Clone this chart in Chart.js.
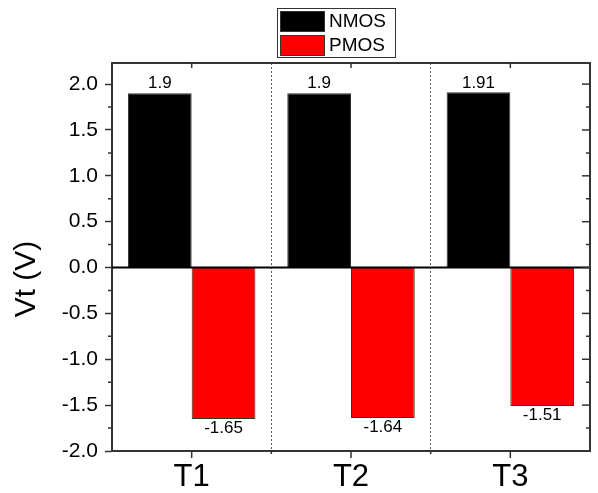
<!DOCTYPE html>
<html>
<head>
<meta charset="utf-8">
<script src="https://cdn.jsdelivr.net/npm/chart.js@4"></script>
<style>
  html, body { margin: 0; padding: 0; background: #fff; }
  #wrap { width: 598px; height: 493px; }
</style>
</head>
<body>
<div id="wrap"><canvas id="vtChart"></canvas></div>
<script>
const categories = ['T1', 'T2', 'T3'];
const nmosValues = [1.9, 1.9, 1.91];
const pmosValues = [-1.65, -1.64, -1.51];
const yTickValues = [-2.0, -1.5, -1.0, -0.5, 0.0, 0.5, 1.0, 1.5, 2.0];
const yTitle = 'Vt (V)';

const FONT = '"Liberation Sans", Arial, sans-serif';
const AXIS = '#333';

// ticks, frame, zero line, value labels, legend
const decorPlugin = {
  id: 'decor',
  afterDatasetsDraw(chart) {
    const ctx = chart.ctx;
    const area = chart.chartArea;
    const y = chart.scales.y;
    const x = chart.scales.x;

    // zero line
    ctx.save();
    ctx.strokeStyle = '#000';
    ctx.lineWidth = 2;
    ctx.beginPath();
    ctx.moveTo(area.left, y.getPixelForValue(0));
    ctx.lineTo(area.right, y.getPixelForValue(0));
    ctx.stroke();

    // value labels
    ctx.fillStyle = '#000';
    ctx.font = '17px ' + FONT;
    ctx.textAlign = 'center';
    chart.data.datasets.forEach((ds, i) => {
      chart.getDatasetMeta(i).data.forEach((bar, j) => {
        const v = ds.data[j];
        if (v >= 0) {
          ctx.textBaseline = 'bottom';
          ctx.fillText(String(v), bar.x, bar.y - 1);
        } else {
          ctx.textBaseline = 'top';
          ctx.fillText(String(v), bar.x, bar.y + 1);
        }
      });
    });
    ctx.restore();
  },
  afterDraw(chart) {
    const ctx = chart.ctx;
    const area = chart.chartArea;
    const y = chart.scales.y;
    const x = chart.scales.x;
    ctx.save();
    ctx.strokeStyle = AXIS;

    // top + right frame
    ctx.lineWidth = 2;
    ctx.beginPath();
    ctx.moveTo(area.left, area.top);
    ctx.lineTo(area.right, area.top);
    ctx.lineTo(area.right, area.bottom);
    ctx.stroke();

    // major inward ticks on right
    ctx.lineWidth = 1.5;
    yTickValues.forEach(v => {
      const py = y.getPixelForValue(v);
      ctx.beginPath();
      ctx.moveTo(area.right - 8, py);
      ctx.lineTo(area.right, py);
      ctx.stroke();
    });
    // minor ticks left (out) and right (in)
    for (let k = 0; k < yTickValues.length - 1; k++) {
      const py = y.getPixelForValue((yTickValues[k] + yTickValues[k + 1]) / 2);
      ctx.beginPath();
      ctx.moveTo(area.left - 4, py);
      ctx.lineTo(area.left, py);
      ctx.moveTo(area.right - 4, py);
      ctx.lineTo(area.right, py);
      ctx.stroke();
    }
    // x ticks: centres out at bottom / in at top, boundaries short
    categories.forEach((c, i) => {
      const px = x.getPixelForValue(i);
      ctx.beginPath();
      ctx.moveTo(px, area.bottom);
      ctx.lineTo(px, area.bottom + 7);
      ctx.moveTo(px, area.top);
      ctx.lineTo(px, area.top + 5);
      ctx.stroke();
    });
    for (let i = 1; i < categories.length; i++) {
      const px = (x.getPixelForValue(i - 1) + x.getPixelForValue(i)) / 2;
      ctx.beginPath();
      ctx.moveTo(px, area.bottom);
      ctx.lineTo(px, area.bottom + 3);
      ctx.stroke();
    }

    // y title
    ctx.fillStyle = '#000';
    ctx.font = '30px ' + FONT;
    ctx.textAlign = 'center';
    ctx.textBaseline = 'middle';
    ctx.translate(27, 279);
    ctx.rotate(-Math.PI / 2);
    ctx.fillText(yTitle, 0, 0);
    ctx.restore();

    // legend box
    ctx.save();
    ctx.fillStyle = '#fff';
    ctx.fillRect(277, 8, 118, 49);
    ctx.strokeStyle = AXIS;
    ctx.lineWidth = 1;
    ctx.strokeRect(277.5, 8.5, 118, 49);
    ctx.font = '19px ' + FONT;
    ctx.textAlign = 'left';
    ctx.textBaseline = 'middle';
    chart.data.datasets.forEach((ds, i) => {
      const top = 11 + i * 24;
      ctx.fillStyle = ds.backgroundColor;
      ctx.fillRect(280, top, 44, 20);
      ctx.strokeRect(280.5, top + 0.5, 44, 20);
      ctx.fillStyle = '#000';
      ctx.fillText(ds.label, 329, top + 11);
    });
    ctx.restore();
  }
};

new Chart(document.getElementById('vtChart'), {
  type: 'bar',
  data: {
    labels: categories,
    datasets: [
      { label: 'NMOS', data: nmosValues, backgroundColor: '#000000', borderColor: AXIS, borderWidth: 1 },
      { label: 'PMOS', data: pmosValues, backgroundColor: '#ff0000', borderColor: AXIS, borderWidth: 1 }
    ]
  },
  options: {
    responsive: true,
    maintainAspectRatio: false,
    animation: false,
    layout: { padding: { top: 63, right: 8, left: 0, bottom: 0 } },
    plugins: {
      legend: { display: false },
      tooltip: { enabled: false }
    },
    datasets: { bar: { categoryPercentage: 0.8, barPercentage: 1.0 } },
    scales: {
      x: {
        offset: true,
        afterFit: s => { s.height = 42; },
        grid: {
          offset: true,
          drawTicks: false,
          color: '#555',
          lineWidth: 1
        },
        border: { color: AXIS, width: 2, dash: [2, 2] },
        ticks: { color: '#000', font: { family: FONT, size: 31 }, padding: 8 }
      },
      y: {
        min: -2,
        max: 2.23,
        afterFit: s => { s.width = 112; },
        afterBuildTicks: s => { s.ticks = yTickValues.map(v => ({ value: v })); },
        grid: { drawOnChartArea: false, tickLength: 7, tickColor: AXIS, tickWidth: 1.5 },
        border: { color: AXIS, width: 2 },
        ticks: {
          color: '#000',
          font: { family: FONT, size: 21 },
          padding: 7,
          callback: v => Number(v).toFixed(1)
        }
      }
    }
  },
  plugins: [decorPlugin]
});
</script>
</body>
</html>
